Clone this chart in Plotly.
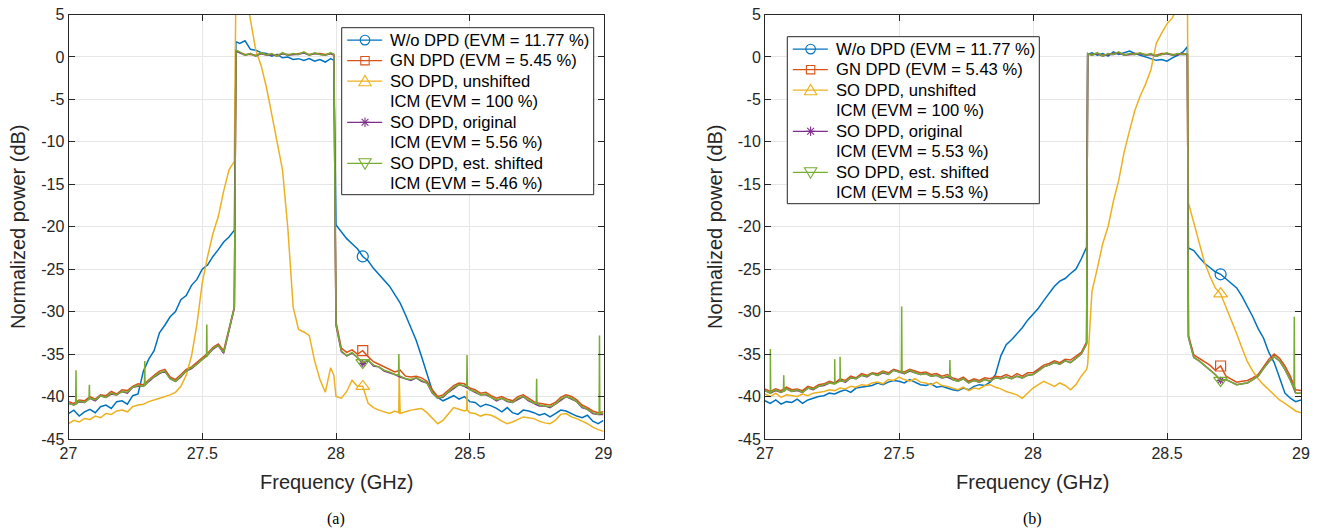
import numpy as np
import plotly.graph_objects as go

# ---------------- data ----------------
# common frequency grid (GHz), 0.02 GHz spacing
freq = np.round(27.0 + 0.02 * np.arange(101), 3)

# ---- panel (a) ----
wo_a = [
    -42.0, -41.6, -42.3, -41.8, -41.5, -41.9, -41.2, -41.0, -41.4, -40.6,
    -40.5, -40.9, -39.9, -39.7, -37.0, -35.6, -34.6, -32.5, -31.6, -30.6,
    -30.0, -28.6, -28.1, -26.9, -26.2, -25.0, -24.5, -23.5, -22.7, -21.8,
    -21.2, -20.4, 1.6, 1.9, 0.9, 0.8, 0.5, 0.4, 0.1, 0.3,
    -0.1, 0.0, -0.3, -0.2, -0.4, -0.2, -0.5, -0.3, -0.6, -0.2,
    -19.8, -20.6, -21.4, -22.0, -22.6, -23.5, -24.0, -24.9, -25.6, -26.2,
    -27.0, -28.0, -29.0, -30.4, -32.0, -33.4, -35.3, -37.3, -39.3, -40.1,
    -40.5, -40.2, -39.9, -40.3, -40.0, -40.6, -40.7, -41.2, -40.9, -41.1,
    -41.4, -41.8, -41.3, -41.9, -42.1, -41.6, -41.7, -41.9, -42.2, -42.0,
    -42.4, -42.0, -41.6, -41.7, -42.0, -42.3, -42.5, -42.2, -42.9, -43.2, -42.8]
gn_a = [
    -40.6, -40.8, -40.4, -40.5, -40.0, -40.3, -39.8, -39.9, -39.4, -39.7,
    -39.2, -39.3, -38.8, -38.5, -38.6, -38.0, -37.5, -37.0, -36.8, -37.7,
    -38.0, -37.4, -36.8, -36.5, -36.0, -35.5, -34.9, -34.2, -33.8, -34.6,
    -31.9, -29.4, 0.5, 0.3, 0.3, 0.2, 0.4, 0.3, 0.3, 0.2,
    0.4, 0.3, 0.3, 0.4, 0.5, 0.3, 0.4, 0.4, 0.3, 0.4,
    -31.2, -34.3, -34.8, -34.5, -35.0, -34.6, -35.3, -35.9, -36.2, -36.5,
    -36.8, -37.1, -36.9, -37.6, -37.7, -37.6, -37.8, -38.2, -39.2, -40.0,
    -39.8, -39.3, -38.7, -38.4, -38.5, -39.0, -39.2, -39.6, -39.5, -39.9,
    -40.2, -40.0, -40.3, -40.5, -40.0, -39.8, -40.2, -40.6, -40.8, -40.9,
    -41.0, -40.7, -40.1, -39.8, -40.0, -40.4, -41.0, -41.3, -41.7, -41.9, -41.8]
uns_a = [
    -43.2, -42.8, -43.0, -42.6, -42.7, -42.3, -42.5, -42.0, -42.1, -41.7,
    -41.6, -41.8, -41.2, -41.0, -40.9, -40.6, -40.4, -40.2, -40.0, -39.8,
    -39.5, -38.8, -37.5, -35.2, -31.5, -26.6, -23.5, -20.8, -18.8, -15.8,
    -13.3, -12.3, 10.0, 8.0, 4.6, 0.8, -1.0, -3.6, -6.8, -10.2,
    -13.3, -20.2, -29.5, -32.1, -32.4, -32.8, -35.8, -38.0, -39.5, -36.6,
    -40.0, -40.2, -39.4, -38.1, -38.8, -38.8, -40.8, -41.3, -41.6, -41.8,
    -42.0, -41.7, -42.0, -41.8, -41.6, -41.5, -41.4, -41.9, -42.6, -43.2,
    -42.8, -42.1, -41.3, -41.5, -41.7, -41.9, -42.0, -42.3, -42.1, -42.2,
    -42.5, -42.9, -43.2, -43.0, -42.7, -42.4, -42.5, -42.6, -42.9, -43.1,
    -43.2, -42.8, -42.1, -42.0, -42.4, -42.6, -42.9, -43.2, -43.6, -43.9, -44.1]
orig_a = [
    -40.8, -41.0, -40.6, -40.7, -40.2, -40.5, -39.9, -40.1, -39.7, -39.8,
    -39.4, -39.6, -38.9, -38.8, -38.8, -38.2, -37.7, -37.3, -37.0, -37.9,
    -38.2, -37.7, -37.0, -36.7, -36.2, -35.7, -35.1, -34.4, -34.0, -34.9,
    -32.1, -29.6, 0.5, 0.2, 0.4, 0.1, 0.4, 0.2, 0.3, 0.1,
    0.4, 0.2, 0.3, 0.3, 0.5, 0.2, 0.4, 0.3, 0.2, 0.4,
    -31.6, -34.7, -35.2, -34.9, -35.4, -36.1, -35.7, -36.4, -36.5, -37.0,
    -37.2, -37.4, -37.7, -37.9, -38.1, -37.8, -38.2, -38.4, -39.6, -40.2,
    -40.1, -39.5, -39.0, -38.6, -38.8, -39.2, -39.5, -39.8, -39.8, -40.1,
    -40.5, -40.2, -40.6, -40.7, -40.3, -40.0, -40.5, -40.8, -41.1, -41.1,
    -41.3, -40.9, -40.4, -40.0, -40.3, -40.6, -41.3, -41.5, -42.0, -42.1, -42.1]
est_a = [
    -40.8, -41.0, -40.5, -40.7, -40.2, -40.4, -39.9, -40.1, -39.6, -39.8,
    -39.4, -39.5, -38.9, -38.7, -38.8, -38.1, -37.7, -37.2, -37.0, -37.9,
    -38.2, -37.6, -37.0, -36.6, -36.2, -35.6, -35.1, -34.3, -34.0, -34.8,
    -32.0, -29.5, 0.6, 0.2, 0.4, 0.1, 0.5, 0.2, 0.4, 0.1,
    0.5, 0.2, 0.4, 0.3, 0.6, 0.2, 0.5, 0.3, 0.2, 0.5,
    -31.5, -34.6, -35.2, -34.8, -35.4, -36.0, -35.7, -36.3, -36.5, -36.9,
    -37.1, -37.4, -37.6, -37.9, -38.0, -37.8, -38.1, -38.4, -39.5, -40.2,
    -40.0, -39.5, -38.9, -38.6, -38.7, -39.2, -39.4, -39.8, -39.7, -40.1,
    -40.4, -40.2, -40.5, -40.7, -40.2, -40.0, -40.4, -40.8, -41.0, -41.1,
    -41.2, -40.9, -40.3, -40.0, -40.2, -40.6, -41.2, -41.5, -41.9, -42.1, -42.0]
# extra samples right at the band edges (a)
edge_f_a = [27.626, 27.992]
wo_edge_a = [1.8, -0.4]
gn_edge_a = [0.7, 0.2]
uns_edge_a = [9.0, -37.5]
orig_edge_a = [0.7, 0.3]
est_edge_a = [0.8, 0.3]
# narrow spurs (frequency, floor, peak)
spur_f_a = [27.028, 27.078, 27.285, 27.517, 28.235, 28.49, 28.75, 28.985]
spur_lo_a = [-40.9, -40.3, -38.7, -35.3, -37.5, -38.8, -40.8, -42.0]
spur_hi_a = [-36.9, -38.6, -35.8, -31.5, -35.0, -35.1, -37.9, -32.8]
spur_uns_f_a = [28.236, 28.49]
spur_uns_lo_a = [-41.9, -41.6]
spur_uns_hi_a = [-37.6, -39.3]

# ---- panel (b) ----
wo_b = [
    -40.5, -40.8, -40.4, -40.9, -40.6, -40.7, -40.3, -40.8, -40.4, -40.2,
    -40.0, -39.9, -39.6, -39.7, -39.4, -39.2, -39.5, -39.0, -38.9, -38.8,
    -38.7, -38.4, -38.6, -38.3, -38.1, -38.2, -38.4, -38.0, -38.3, -38.6,
    -38.7, -38.5, -38.9, -38.8, -39.0, -39.2, -39.3, -39.0, -39.2, -38.8,
    -38.6, -38.7, -38.3, -37.4, -35.2, -33.9, -33.3, -32.6, -31.9, -31.0,
    -30.3, -29.6, -28.7, -27.8, -27.0, -26.4, -26.1, -25.5, -25.0, -23.8,
    -22.4, 0.5, 0.2, 0.4, 0.1, 0.6, 0.3, 0.5, 0.7, 0.4,
    0.2, 0.0, -0.2, -0.4, -0.3, -0.5, -0.1, 0.2, 0.6, -22.5,
    -22.8, -23.6, -24.3, -24.8, -25.3, -25.6, -26.1, -26.7, -27.2, -28.2,
    -29.4, -30.6, -32.0, -33.1, -34.8, -36.0, -37.8, -39.6, -40.2, -40.6, -40.4]
gn_b = [
    -39.1, -39.4, -39.1, -39.3, -38.9, -39.2, -39.1, -39.3, -38.8, -39.0,
    -38.6, -38.5, -38.2, -38.4, -37.9, -38.1, -37.6, -37.8, -37.3, -37.5,
    -37.2, -37.3, -37.0, -37.2, -36.8, -37.0, -37.1, -36.8, -37.0, -37.2,
    -37.1, -37.4, -37.3, -37.6, -37.4, -37.8, -38.0, -37.7, -38.2, -37.9,
    -38.1, -37.8, -37.9, -37.6, -37.7, -37.4, -37.7, -37.3, -37.6, -37.2,
    -37.2, -36.8, -36.3, -36.1, -35.8, -36.0, -35.6, -35.7, -35.2, -34.8,
    -33.6, 0.3, 0.4, 0.2, 0.3, 0.4, 0.5, 0.3, 0.3, 0.4,
    0.4, 0.3, 0.3, 0.2, 0.4, 0.4, 0.3, 0.3, 0.4, -32.8,
    -35.1, -35.5, -36.0, -36.3, -36.9, -36.4, -37.6, -38.0, -38.3, -38.2,
    -38.1, -37.8, -37.4, -36.5, -35.6, -35.0, -35.5, -36.4, -37.6, -39.2, -39.3]
uns_b = [
    -39.7, -40.0, -39.6, -40.1, -39.8, -39.9, -40.0, -39.7, -39.9, -39.6,
    -39.5, -39.4, -39.2, -39.3, -39.0, -39.1, -38.8, -38.9, -38.6, -38.7,
    -38.4, -38.3, -38.5, -38.0, -38.1, -37.7, -38.0, -38.2, -37.9, -38.3,
    -38.4, -38.6, -38.3, -38.7, -38.8, -39.0, -39.2, -38.9, -39.3, -39.0,
    -39.1, -38.7, -38.6, -38.9, -39.1, -39.4, -39.6, -39.8, -40.2, -39.6,
    -39.0, -38.6, -38.2, -38.5, -38.8, -38.4, -38.7, -39.2, -38.6, -37.6,
    -36.8, -27.6, -24.9, -22.0, -20.0, -17.0, -14.5, -11.2, -8.7, -6.3,
    -4.6, -3.2, -1.5, 1.6, 2.8, 3.9, 4.6, 6.0, 8.0, -17.2,
    -19.6, -22.0, -24.2, -25.8, -27.2, -27.9, -29.4, -30.9, -32.6, -34.3,
    -35.9, -37.0, -37.9, -38.6, -39.2, -39.9, -40.4, -40.8, -41.3, -41.7, -41.9]
orig_b = [
    -39.3, -39.6, -39.3, -39.5, -39.1, -39.4, -39.3, -39.5, -39.0, -39.2,
    -38.8, -38.7, -38.4, -38.5, -38.1, -38.3, -37.8, -37.9, -37.5, -37.7,
    -37.3, -37.5, -37.2, -37.4, -36.9, -37.1, -37.3, -37.0, -37.2, -37.4,
    -37.3, -37.6, -37.5, -37.8, -37.7, -38.0, -38.2, -37.9, -38.4, -38.1,
    -38.3, -38.0, -38.2, -37.8, -37.9, -37.7, -37.9, -37.6, -37.8, -37.5,
    -37.4, -37.0, -36.5, -36.3, -36.0, -36.2, -35.8, -36.0, -35.5, -35.0,
    -33.8, 0.2, 0.4, 0.1, 0.3, 0.3, 0.5, 0.2, 0.3, 0.3,
    0.4, 0.2, 0.3, 0.1, 0.3, 0.4, 0.2, 0.3, 0.3, -33.0,
    -35.4, -35.8, -36.3, -36.8, -37.4, -38.1, -38.0, -38.3, -38.6, -38.5,
    -38.4, -38.0, -37.6, -36.7, -35.9, -35.3, -35.8, -36.8, -38.0, -39.6, -39.6]
est_b = [
    -39.3, -39.6, -39.2, -39.5, -39.1, -39.4, -39.2, -39.5, -39.0, -39.1,
    -38.8, -38.6, -38.4, -38.5, -38.1, -38.2, -37.8, -37.9, -37.5, -37.6,
    -37.3, -37.5, -37.1, -37.4, -36.9, -37.1, -37.3, -36.9, -37.2, -37.4,
    -37.3, -37.6, -37.5, -37.8, -37.6, -38.0, -38.2, -37.9, -38.4, -38.1,
    -38.3, -38.0, -38.2, -37.8, -37.9, -37.7, -37.9, -37.6, -37.8, -37.5,
    -37.4, -37.0, -36.5, -36.3, -36.0, -36.2, -35.8, -36.0, -35.5, -35.0,
    -33.8, 0.2, 0.5, 0.1, 0.4, 0.3, 0.6, 0.2, 0.4, 0.3,
    0.5, 0.2, 0.4, 0.1, 0.3, 0.5, 0.2, 0.4, 0.3, -33.0,
    -35.4, -35.8, -36.3, -36.8, -37.4, -38.1, -38.0, -38.3, -38.6, -38.5,
    -38.4, -38.0, -37.6, -36.7, -35.9, -35.3, -35.8, -36.8, -38.0, -39.6, -39.6]
edge_f_b = [28.204, 28.576]
wo_edge_b = [0.3, 1.2]
gn_edge_b = [0.3, 0.3]
uns_edge_b = [-36.2, 8.5]
orig_edge_b = [0.4, 0.3]
est_edge_b = [0.4, 0.4]
spur_f_b = [27.02, 27.07, 27.26, 27.28, 27.51, 27.69, 28.975]
spur_lo_b = [-39.5, -39.4, -38.5, -38.2, -37.1, -37.7, -39.0]
spur_hi_b = [-34.4, -37.5, -35.6, -35.3, -29.4, -35.7, -30.6]

# marker positions (one marker per curve, like the MATLAB figure)
marker_f_a = 28.10
marker_f_b = 28.70

names_a = ["W/o DPD (EVM = 11.77 %)", "GN DPD (EVM = 5.45 %)",
           "SO DPD, unshifted<br>ICM (EVM = 100 %)",
           "SO DPD, original<br>ICM (EVM = 5.56 %)",
           "SO DPD, est. shifted<br>ICM (EVM = 5.46 %)"]
names_b = ["W/o DPD (EVM = 11.77 %)", "GN DPD (EVM = 5.43 %)",
           "SO DPD, unshifted<br>ICM (EVM = 100 %)",
           "SO DPD, original<br>ICM (EVM = 5.53 %)",
           "SO DPD, est. shifted<br>ICM (EVM = 5.53 %)"]

colors = ["#0072BD", "#D95319", "#EDB120", "#7E2F8E", "#77AC30"]
symbols = ["circle-open", "square-open", "triangle-up-open", "asterisk-open", "triangle-down-open"]
msizes = [11, 10, 12, 6, 12]

for lst in [wo_a, gn_a, uns_a, orig_a, est_a, wo_b, gn_b, uns_b, orig_b, est_b]:
    assert len(lst) == len(freq), len(lst)

# ---------------- figure ----------------
W, H = 1324, 529
FONT = "Liberation Sans, Arial, Helvetica, sans-serif"
fig = go.Figure()


def px(x):
    return x / W


def py(y):
    return 1 - y / H


def build(vals, edge_f, edge_v, spurs=None):
    xs = list(freq) + list(edge_f)
    ys = list(vals) + list(edge_v)
    if spurs is not None:
        for f, lo, hi in zip(*spurs):
            xs += [f - 0.0012, f, f + 0.0012]
            ys += [lo, hi, lo]
    order = np.argsort(np.array(xs), kind="stable")
    return np.array(xs)[order], np.array(ys)[order]


def add_panel(series, edges, edge_f, spur_map, mf, xa, ya):
    midx = int(round((mf - 27.0) / 0.02))
    for k, (vals, ev) in enumerate(zip(series, edges)):
        x, y = build(vals, edge_f, ev, spur_map.get(k))
        fig.add_trace(go.Scatter(x=x, y=y, mode="lines", xaxis=xa, yaxis=ya,
                                 line=dict(color=colors[k], width=1.5),
                                 showlegend=False, hoverinfo="skip"))
        fig.add_trace(go.Scatter(x=[freq[midx]], y=[vals[midx]], mode="markers",
                                 xaxis=xa, yaxis=ya, showlegend=False, hoverinfo="skip",
                                 marker=dict(symbol=symbols[k], size=msizes[k], color=colors[k],
                                             line=dict(color=colors[k], width=1.2))))


add_panel([wo_a, gn_a, uns_a, orig_a, est_a],
          [wo_edge_a, gn_edge_a, uns_edge_a, orig_edge_a, est_edge_a], edge_f_a,
          {2: (spur_uns_f_a, spur_uns_lo_a, spur_uns_hi_a), 4: (spur_f_a, spur_lo_a, spur_hi_a)},
          marker_f_a, "x", "y")
add_panel([wo_b, gn_b, uns_b, orig_b, est_b],
          [wo_edge_b, gn_edge_b, uns_edge_b, orig_edge_b, est_edge_b], edge_f_b,
          {4: (spur_f_b, spur_lo_b, spur_hi_b)},
          marker_f_b, "x2", "y2")

# ---------------- hand-built MATLAB-style legends ----------------
shapes = []
ann = []
LEG_W, LEG_H, ROW = 252, 167, 20.55


def legend_marker(k, cx, cy, col):
    lw = dict(color=col, width=1.1)
    if k == 0:
        r = 4.8
        return [dict(type="circle", xref="paper", yref="paper", x0=px(cx - r), x1=px(cx + r),
                     y0=py(cy + r), y1=py(cy - r), line=lw, layer="above")]
    if k == 1:
        r = 4.2
        return [dict(type="rect", xref="paper", yref="paper", x0=px(cx - r), x1=px(cx + r),
                     y0=py(cy + r), y1=py(cy - r), line=lw, layer="above")]
    if k in (2, 4):
        s = 1 if k == 2 else -1
        pts = [(cx, cy - 5.8 * s), (cx - 6.2, cy + 4.6 * s), (cx + 6.2, cy + 4.6 * s)]
        path = "M " + " L ".join(f"{px(a):.6f},{py(b):.6f}" for a, b in pts) + " Z"
        return [dict(type="path", xref="paper", yref="paper", path=path, line=lw, layer="above")]
    out = []
    r, d = 4.8, 3.4
    for (dx, dy) in [(0, r), (r, 0), (d, d), (d, -d)]:
        out.append(dict(type="line", xref="paper", yref="paper", x0=px(cx - dx), x1=px(cx + dx),
                        y0=py(cy - dy), y1=py(cy + dy), line=lw, layer="above"))
    return out


def draw_legend(left, top, names):
    shapes.append(dict(type="rect", xref="paper", yref="paper", x0=px(left), x1=px(left + LEG_W),
                       y0=py(top + LEG_H), y1=py(top), fillcolor="white",
                       line=dict(color="#262626", width=1), layer="above"))
    row = 0
    for k, name in enumerate(names):
        cy = top + 12.4 + ROW * row
        shapes.append(dict(type="line", xref="paper", yref="paper", x0=px(left + 5.5),
                           x1=px(left + 40.5), y0=py(cy), y1=py(cy),
                           line=dict(color=colors[k], width=1.2), layer="above"))
        shapes.extend(legend_marker(k, left + 23.3, cy, colors[k]))
        for part in name.split("<br>"):
            ty = top + 12.4 + ROW * row
            ann.append(dict(x=px(left + 46.4), y=py(ty), xref="paper", yref="paper", text=part,
                            showarrow=False, xanchor="left", yanchor="middle",
                            font=dict(family=FONT, size=16.6, color="#000000")))
            row += 1


draw_legend(341.7, 27.7, names_a)
draw_legend(787.3, 36.7, names_b)

x_ticks = [27, 27.5, 28, 28.5, 29]
x_text = ["27", "27.5", "28", "28.5", "29"]
y_ticks = [-45, -40, -35, -30, -25, -20, -15, -10, -5, 0, 5]
y_text = ["-45", "-40", "-35", "-30", "-25", "-20", "-15", "-10", "-5", "0", "5"]

axis_style = dict(showline=True, linecolor="#262626", linewidth=1, mirror="ticks",
                  ticks="inside", ticklen=6, tickcolor="#262626", tickwidth=1,
                  tickfont=dict(family=FONT, size=16, color="#262626"),
                  showgrid=True, gridcolor="#e6e6e6", gridwidth=1, zeroline=False,
                  automargin=False, fixedrange=True)

ydom = [py(439), py(14.5)]
fig.update_layout(
    template="none",
    width=W, height=H, margin=dict(l=0, r=0, t=0, b=0, pad=0),
    paper_bgcolor="white", plot_bgcolor="white", showlegend=False,
    font=dict(family=FONT),
    xaxis=dict(domain=[px(68.5), px(603.5)], range=[27, 29], tickvals=x_ticks, ticktext=x_text,
               anchor="y", **axis_style),
    yaxis=dict(domain=ydom, range=[-45, 5], tickvals=y_ticks, ticktext=y_text,
               anchor="x", **axis_style),
    xaxis2=dict(domain=[px(765), px(1301)], range=[27, 29], tickvals=x_ticks, ticktext=x_text,
                anchor="y2", **axis_style),
    yaxis2=dict(domain=ydom, range=[-45, 5], tickvals=y_ticks, ticktext=y_text,
                anchor="x2", **axis_style),
)

for cx, lab in [(336, "(a)"), (1032, "(b)")]:
    ann.append(dict(x=px(cx), y=py(482), xref="paper", yref="paper", text="Frequency (GHz)",
                    showarrow=False, xanchor="center", yanchor="middle",
                    font=dict(family=FONT, size=20, color="#262626")))
    ann.append(dict(x=px(cx), y=py(519), xref="paper", yref="paper", text=lab,
                    showarrow=False, xanchor="center", yanchor="middle",
                    font=dict(family="Liberation Serif, Times New Roman, serif", size=16, color="#000000")))
for cx in [18, 715]:
    ann.append(dict(x=px(cx), y=py(227), xref="paper", yref="paper", text="Normalized power (dB)",
                    showarrow=False, xanchor="center", yanchor="middle", textangle=-90,
                    font=dict(family=FONT, size=20, color="#262626")))
fig.update_layout(annotations=ann, shapes=shapes)

# remove the default page margin so the 1324x529 figure fills the window exactly
fig.write_html("out.html", config={"displayModeBar": False, "staticPlot": True},
               post_script="document.body.style.margin='0px';"
               "document.body.style.overflow='hidden';")
